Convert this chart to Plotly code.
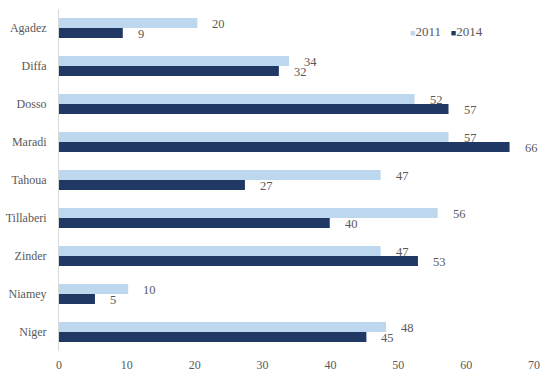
import plotly.graph_objects as go

regions = ["Agadez", "Diffa", "Dosso", "Maradi", "Tahoua", "Tillaberi", "Zinder", "Niamey", "Niger"]
values_2011 = [20.4, 33.9, 52.4, 57.4, 47.4, 55.8, 47.4, 10.2, 48.2]
values_2014 = [9.4, 32.4, 57.4, 66.4, 27.4, 39.9, 52.9, 5.3, 45.3]
series_names = ["2011", "2014"]
x_ticks = [0, 10, 20, 30, 40, 50, 60, 70]

LIGHT = "#BDD7EE"
DARK = "#1F3864"
GREY = "#595959"
FONT = "Liberation Serif"

fig = go.Figure()
fig.add_trace(go.Bar(y=regions, x=values_2011, orientation="h", name=series_names[0],
                     marker=dict(color=LIGHT, line=dict(width=0))))
fig.add_trace(go.Bar(y=regions, x=values_2014, orientation="h", name=series_names[1],
                     marker=dict(color=DARK, line=dict(width=0))))

annotations = []
for r, v in zip(regions, values_2011):
    annotations.append(dict(x=v, y=r, text=str(round(v)), showarrow=False,
                            xanchor="left", yanchor="middle", xshift=13, yshift=4,
                            font=dict(family=FONT, size=12.5, color=GREY)))
for r, v in zip(regions, values_2014):
    annotations.append(dict(x=v, y=r, text=str(round(v)), showarrow=False,
                            xanchor="left", yanchor="middle", xshift=13, yshift=-6,
                            font=dict(family=FONT, size=12.5, color=GREY)))

# compact legend (square glyph right next to label, as in the reference)
legend_text = "&nbsp;&nbsp;&nbsp;".join(
    f'<span style="color:{c};font-size:9px">■</span>{n}'
    for c, n in zip([LIGHT, DARK], series_names))
annotations.append(dict(xref="paper", yref="paper", x=0.735, y=0.933,
                        xanchor="left", yanchor="middle", showarrow=False,
                        text=legend_text, font=dict(family=FONT, size=13, color=GREY)))

fig.update_layout(
    width=559, height=390,
    margin=dict(l=58.5, r=25, t=9, b=39, autoexpand=False),
    paper_bgcolor="white", plot_bgcolor="white",
    barmode="group", bargap=0.47, bargroupgap=0,
    showlegend=False,
    font=dict(family=FONT, size=12, color=GREY),
    annotations=annotations,
    xaxis=dict(range=[0, 70], tickvals=x_ticks, showgrid=False, zeroline=False,
               showline=False, ticks="", automargin=False, ticklabelstandoff=5,
               tickfont=dict(family=FONT, size=12, color=GREY)),
    yaxis=dict(autorange="reversed", showgrid=False, zeroline=False,
               showline=True, linecolor="#D9D9D9", linewidth=1, ticks="",
               ticklabelstandoff=9, automargin=False,
               tickfont=dict(family=FONT, size=12, color=GREY)),
)

fig.write_html("out.html", config={"displayModeBar": False},
               post_script="document.body.style.margin='0';")
